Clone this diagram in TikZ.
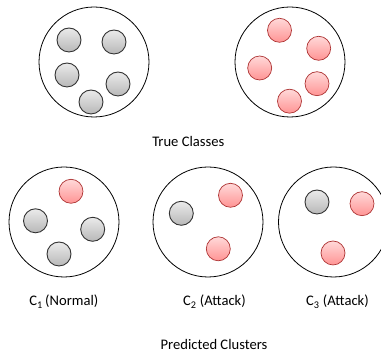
\documentclass[tikz,border=0pt]{standalone}
\usepackage{fontspec}
\setmainfont{Carlito}
\begin{document}
\begin{tikzpicture}[x=1pt,y=1pt,
  group/.style={circle,draw=black,line width=0.8pt,minimum size=110pt,inner sep=0pt},
  normal/.style={circle,draw=black!80,line width=0.9pt,minimum size=24pt,inner sep=0pt,
    top color=black!8,bottom color=black!28},
  attack/.style={circle,draw=red!60!black!80,line width=0.7pt,minimum size=24pt,inner sep=0pt,
    top color=red!15,bottom color=red!42},
  caption/.style={font=\fontsize{14.6}{17}\selectfont,inner sep=0pt,anchor=base}]
\useasboundingbox (0,0) rectangle (381,355);

% true classes
\node[group] (tn) at (94,293) {};
\node[normal] (n1) at (69,315) {};
\node[normal] (n2) at (114,313) {};
\node[normal] (n3) at (67,280) {};
\node[normal] (n4) at (118,271) {};
\node[normal] (n5) at (91,253) {};

\node[group] (ta) at (290,293) {};
\node[attack] (a1) at (279.5,324.7) {};
\node[attack] (a2) at (318.7,306.7) {};
\node[attack] (a3) at (259.7,287) {};
\node[attack] (a4) at (317,271.3) {};
\node[attack] (a5) at (289.5,253.8) {};

\node[caption] (tc) at (188.3,208.3) {True Classes};

% predicted clusters
\node[group] (c1) at (64,133) {};
\node[attack] (c1a) at (71,163.7) {};
\node[normal] (c1n1) at (35.5,134.2) {};
\node[normal] (c1n2) at (92.7,125.7) {};
\node[normal] (c1n3) at (59,101) {};

\node[group] (c2) at (208,133) {};
\node[normal] (c2n) at (181.3,141.7) {};
\node[attack] (c2a1) at (230.5,159.7) {};
\node[attack] (c2a2) at (218.3,106.2) {};

\node[group] (c3) at (333.5,133) {};
\node[normal] (c3n) at (317,153) {};
\node[attack] (c3a1) at (362,151.3) {};
\node[attack] (c3a2) at (333,102) {};

\node[caption] (l1) at (63.8,49) {C\textsubscript{1}\,(Normal)};
\node[caption] (l2) at (214.5,49) {C\textsubscript{2} (Attack)};
\node[caption] (l3) at (337.5,49) {C\textsubscript{3} (Attack)};

\node[caption] (pc) at (214,5.7) {Predicted Clusters};
\end{tikzpicture}
\end{document}
